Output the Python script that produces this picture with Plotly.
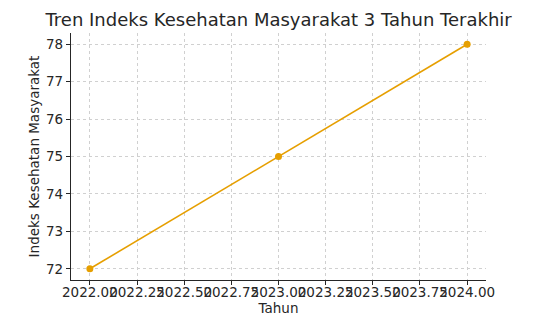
import plotly.graph_objects as go

years = [2022, 2023, 2024]
index_values = [72, 75, 78]

fig = go.Figure()
fig.add_trace(go.Scatter(
    x=years, y=index_values, mode="lines+markers",
    line=dict(color="#E69F00", width=1.6),
    marker=dict(color="#E69F00", size=7),
    showlegend=False,
))

font = "DejaVu Sans"
fig.update_layout(
    width=555, height=329,
    margin=dict(l=71, r=69, t=33, b=49),
    paper_bgcolor="white", plot_bgcolor="white",
    font=dict(family=font, size=13, color="#262626"),
    title=dict(text="Tren Indeks Kesehatan Masyarakat 3 Tahun Terakhir",
               x=0.502, xanchor="center", y=0.94, yanchor="middle",
               font=dict(size=18, color="#262626")),
)
fig.update_xaxes(
    range=[2021.9, 2024.1], tick0=2022, dtick=0.25, tickformat=".2f",
    tickangle=0, ticklabelstandoff=-4,
    showgrid=True, gridcolor="#d0d0d0", griddash="dot", gridwidth=1,
    showline=True, linecolor="#262626", linewidth=1.2,
    ticks="outside", ticklen=4, tickcolor="#262626",
    zeroline=False, mirror=False,
    title=dict(text="Tahun", standoff=2, font=dict(size=13.5)),
    tickfont=dict(size=13.5),
)
fig.update_yaxes(
    range=[71.7, 78.3], tick0=72, dtick=1,
    showgrid=True, gridcolor="#d0d0d0", griddash="dot", gridwidth=1,
    showline=True, linecolor="#262626", linewidth=1.2,
    ticks="outside", ticklen=4, tickcolor="#262626",
    zeroline=False, mirror=False,
    title=dict(text="Indeks Kesehatan Masyarakat", standoff=3, font=dict(size=13.5)),
    tickfont=dict(size=13.5),
)
fig.write_html("out.html")
